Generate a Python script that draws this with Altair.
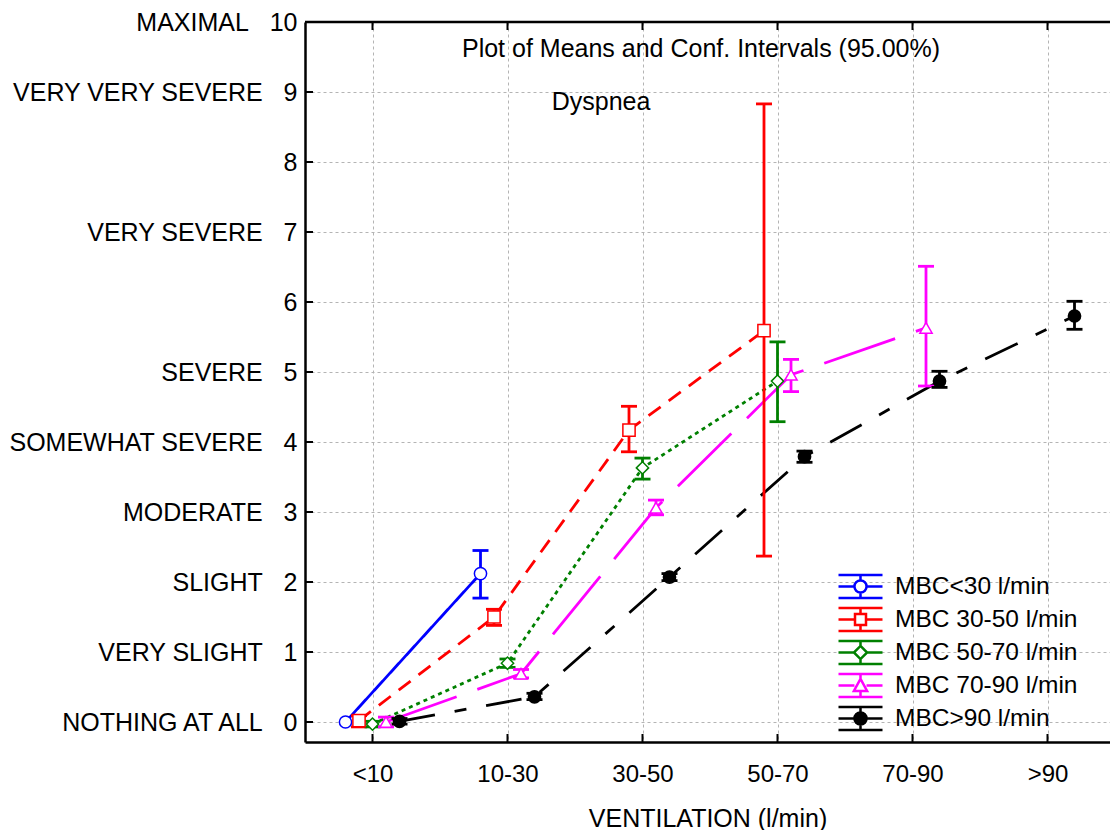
import json
import altair as alt
import pandas as pd

# ---------------- data ----------------
CATEGORIES = ["<10", "10-30", "30-50", "50-70", "70-90", ">90"]
SERIES = ["MBC<30 l/min", "MBC 30-50 l/min", "MBC 50-70 l/min",
          "MBC 70-90 l/min", "MBC>90 l/min"]

MEAN_LT30 = [0.0, 2.12]
LO_LT30 = [None, 1.77]
HI_LT30 = [None, 2.45]

MEAN_30_50 = [0.02, 1.50, 4.17, 5.59]
LO_30_50 = [-0.07, 1.38, 3.86, 2.37]
HI_30_50 = [0.09, 1.61, 4.51, 8.83]

MEAN_50_70 = [-0.03, 0.84, 3.63, 4.87]
LO_50_70 = [-0.07, 0.78, 3.47, 4.29]
HI_50_70 = [0.01, 0.90, 3.77, 5.43]

MEAN_70_90 = [0.0, 0.69, 3.06, 4.96, 5.63]
LO_70_90 = [-0.07, 0.63, 2.96, 4.72, 4.80]
HI_70_90 = [0.07, 0.75, 3.17, 5.18, 6.51]

MEAN_GT90 = [0.01, 0.36, 2.07, 3.79, 4.87, 5.80]
LO_GT90 = [-0.03, 0.32, 2.02, 3.71, 4.78, 5.61]
HI_GT90 = [0.05, 0.41, 2.12, 3.87, 5.01, 6.01]

Y_TICKS = list(range(11))
Y_DESCRIPTORS = ["NOTHING AT ALL", "VERY SLIGHT", "SLIGHT", "MODERATE",
                 "SOMEWHAT SEVERE", "SEVERE", "", "VERY SEVERE", "",
                 "VERY VERY SEVERE", "MAXIMAL"]

TITLE = "Plot of Means and Conf. Intervals (95.00%)"
SUBTITLE = "Dyspnea"
X_TITLE = "VENTILATION (l/min)"

# ---------------- styles ----------------
COLORS = ["#0000FF", "#FF0000", "#008000", "#FF00FF", "#000000"]
FILLS = ["white", "white", "white", "white", "black"]
SHAPES = ["circle", "square", "diamond", "triangle-up", "circle"]
DASHES = [[1, 0], [15, 10], [4, 4], [75, 22], [36, 20, 12, 20]]
OFFSETS = [-0.2, -0.1, 0.0, 0.1, 0.2]
FONT = "Liberation Sans"

means = [MEAN_LT30, MEAN_30_50, MEAN_50_70, MEAN_70_90, MEAN_GT90]
los = [LO_LT30, LO_30_50, LO_50_70, LO_70_90, LO_GT90]
his = [HI_LT30, HI_30_50, HI_50_70, HI_70_90, HI_GT90]

rows = []
for s, name in enumerate(SERIES):
    for i, m in enumerate(means[s]):
        rows.append({"series": name, "cat": CATEGORIES[i],
                     "pos": i + 1 + OFFSETS[s], "mean": m,
                     "lo": los[s][i], "hi": his[s][i]})
df = pd.DataFrame(rows)
ci = df.dropna(subset=["lo", "hi"])

# ---------------- scales / axes ----------------
W, H = 805, 720
xscale = alt.Scale(domain=[0.5, 0.5 + W / 135.0], nice=False, zero=False)
yscale = alt.Scale(domain=[-2 / 7, 10], nice=False, zero=False)

y_labels = [(d + "\u00a0\u00a0\u00a0" if d else "") + str(v)
            for d, v in zip(Y_DESCRIPTORS, Y_TICKS)]
xaxis = alt.Axis(values=list(range(1, len(CATEGORIES) + 1)),
                 labelExpr=json.dumps(CATEGORIES) + "[datum.value - 1]",
                 title=X_TITLE, tickSize=0,
                 domain=True, domainColor="black", domainWidth=2.5,
                 labelFontSize=24, labelPadding=20, labelColor="black",
                 titleFontSize=25, titleFontWeight="normal", titlePadding=20,
                 titleColor="black", labelFont=FONT, titleFont=FONT,
                 labelLimit=400,
                 grid=True, gridDash=[3, 3], gridColor="#b4b4b4", gridWidth=1)
yaxis = alt.Axis(values=Y_TICKS,
                 labelExpr=json.dumps(y_labels) + "[datum.value]",
                 title=None, tickSize=0,
                 domain=True, domainColor="black", domainWidth=2.5,
                 labelFontSize=25, labelPadding=8, labelColor="black",
                 labelFont=FONT, labelLimit=400,
                 grid=True, gridDash=[3, 3], gridColor="#b4b4b4", gridWidth=1)

color_scale = alt.Scale(domain=SERIES, range=COLORS)
fill_scale = alt.Scale(domain=SERIES, range=FILLS)
shape_scale = alt.Scale(domain=SERIES, range=SHAPES)

# legend glyphs (errorbar + line + marker), unit = 11 px
base_glyph = ("M-2,-1.05H2M-2,1.05H2M0,-1.05V-0.55M0,0.55V1.05"
              "M-2,0H-0.55M0.55,0H2")
marker_paths = [
    "M-0.55,0A0.55,0.55,0,1,0,0.55,0A0.55,0.55,0,1,0,-0.55,0Z",
    "M-0.5,-0.5H0.5V0.5H-0.5Z",
    "M0,-0.6L0.6,0L0,0.6L-0.6,0Z",
    "M0,-0.6L0.6,0.5H-0.6Z",
    "M-0.55,0A0.55,0.55,0,1,0,0.55,0A0.55,0.55,0,1,0,-0.55,0Z",
]
glyph_scale = alt.Scale(domain=SERIES, range=[base_glyph + p for p in marker_paths])
legend = alt.Legend(
    title=None, orient="none", legendX=543, legendY=552,
    labelFontSize=24.5, labelFont=FONT, labelColor="black", labelLimit=400,
    symbolSize=484, labelOffset=22, rowPadding=-2, padding=0,
    symbolStrokeWidth=2.5, symbolOpacity=1,
)

X = alt.X("pos:Q", scale=xscale, axis=xaxis)
Ymean = alt.Y("mean:Q", scale=yscale, axis=yaxis)
base = alt.Chart(df)

# lines, one layer per series
lines = []
for s, name in enumerate(SERIES):
    lines.append(
        base.transform_filter(alt.datum.series == name)
        .mark_line(strokeWidth=2.8, strokeDash=DASHES[s], color=COLORS[s])
        .encode(x=X, y=Ymean, order="pos:Q")
    )

bars = alt.Chart(ci).mark_rule(strokeWidth=2.8).encode(
    x=X, y=alt.Y("lo:Q", scale=yscale, axis=yaxis), y2="hi:Q",
    color=alt.Color("series:N", scale=color_scale, legend=None),
)
cap_lo = alt.Chart(ci).mark_rule(strokeWidth=2.8, xOffset=-8, x2Offset=8).encode(
    x=X, x2="pos:Q", y=alt.Y("lo:Q", scale=yscale, axis=yaxis),
    color=alt.Color("series:N", scale=color_scale, legend=None),
)
cap_hi = alt.Chart(ci).mark_rule(strokeWidth=2.8, xOffset=-8, x2Offset=8).encode(
    x=X, x2="pos:Q", y=alt.Y("hi:Q", scale=yscale, axis=yaxis),
    color=alt.Color("series:N", scale=color_scale, legend=None),
)
points = base.mark_point(size=150, strokeWidth=1.5, opacity=1).encode(
    x=X, y=Ymean,
    shape=alt.Shape("series:N", scale=shape_scale, legend=None),
    stroke=alt.Stroke("series:N", scale=color_scale, legend=None),
    fill=alt.Fill("series:N", scale=fill_scale, legend=None),
)
# legend-only layer (no data drawn), glyph shapes in its own shape scale
legend_layer = base.transform_filter("false").mark_point(
    size=484, strokeWidth=2.5, opacity=1
).encode(
    x=X, y=Ymean,
    shape=alt.Shape("series:N", scale=glyph_scale, legend=legend),
    color=alt.Color("series:N", scale=color_scale, legend=legend),
    fill=alt.Fill("series:N", scale=fill_scale, legend=legend),
)

# inward tick marks and top frame line
xt = pd.DataFrame({"pos": list(range(1, len(CATEGORIES) + 1))})
yt = pd.DataFrame({"v": Y_TICKS})
ticks_bottom = alt.Chart(xt).mark_rule(color="black", strokeWidth=2).encode(
    x=X, y=alt.value(H), y2=alt.value(H - 8))
ticks_top = alt.Chart(xt).mark_rule(color="black", strokeWidth=2).encode(
    x=X, y=alt.value(0), y2=alt.value(8))
ticks_left = alt.Chart(yt).mark_rule(color="black", strokeWidth=2).encode(
    y=alt.Y("v:Q", scale=yscale, axis=yaxis), x=alt.value(0), x2=alt.value(8))
top_frame = alt.Chart(pd.DataFrame({"v": [0]})).mark_rule(
    color="black", strokeWidth=2.5
).encode(x=alt.value(0), x2=alt.value(W), y=alt.value(0))

title_txt = alt.Chart(pd.DataFrame({"t": [TITLE]})).mark_text(
    fontSize=25, font=FONT, color="black", align="center", baseline="middle"
).encode(text="t:N", x=alt.value(396), y=alt.value(27))
sub_txt = alt.Chart(pd.DataFrame({"t": [SUBTITLE]})).mark_text(
    fontSize=25, font=FONT, color="black", align="center", baseline="middle"
).encode(text="t:N", x=alt.value(296), y=alt.value(80))

chart = alt.layer(
    *lines, bars, cap_lo, cap_hi, points, legend_layer,
    ticks_bottom, ticks_top, ticks_left, top_frame, title_txt, sub_txt
).resolve_scale(
    shape="independent"
).resolve_legend(
    color="independent", fill="independent", shape="independent"
).properties(
    width=W, height=H,
    padding={"left": 305, "top": 22, "right": 0, "bottom": 88},
    autosize=alt.AutoSizeParams(type="none"),
).configure(
    font=FONT, background="white"
).configure_view(
    stroke="white", strokeWidth=1
)

chart.save("out.html", embed_options={"renderer": "svg", "actions": False})
